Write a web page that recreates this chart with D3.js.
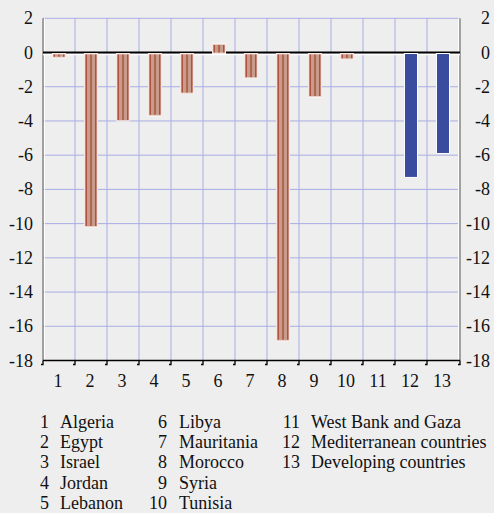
<!DOCTYPE html>
<html>
<head>
   <script src="https://d3js.org/d3.v7.min.js"></script>
   <style>
      body { margin: 0; background: #eeeeee; }
   </style>
</head>
<body>
   <script>
      var codes = [1, 2, 3, 4, 5, 6, 7, 8, 9, 10, 11, 12, 13]
      var names = ["Algeria", "Egypt", "Israel", "Jordan", "Lebanon", "Libya", "Mauritania",
         "Morocco", "Syria", "Tunisia", "West Bank and Gaza", "Mediterranean countries", "Developing countries"]
      var values = [-0.3, -10.2, -4.0, -3.7, -2.4, 0.5, -1.5, -16.85, -2.6, -0.4, 0, -7.3, -5.9]
      var aggregates = [12, 13]
      var yTicks = [2, 0, -2, -4, -6, -8, -10, -12, -14, -16, -18]

      var W = 494, H = 513
      var svg = d3.select("body").append("svg").attr("width", W).attr("height", H)
         .attr("font-family", "'Liberation Serif', 'Times New Roman', Times, serif")
      svg.append("rect").attr("width", W).attr("height", H).attr("fill", "#eeeeee")

      var x = d3.scaleBand().domain(codes).range([43, 459]).padding(0)
      var y = d3.scaleLinear().domain([-18, 2]).range([360.5, 18.3])
      var barW = 13

      // grid
      svg.append("g").selectAll("line.h").data(yTicks.filter(d => d != 0 && d != -18)).enter().append("line")
         .attr("x1", 43).attr("x2", 459).attr("y1", d => y(d)).attr("y2", d => y(d))
         .attr("stroke", "#a9aee3").attr("stroke-width", 1)
      svg.append("g").selectAll("line.v").data(codes.slice(1)).enter().append("line")
         .attr("x1", d => x(d)).attr("x2", d => x(d)).attr("y1", y(2)).attr("y2", y(-18))
         .attr("stroke", "#a9aee3").attr("stroke-width", 1)

      // y axes
      svg.append("line").attr("x1", 44.5).attr("x2", 44.5).attr("y1", y(2)).attr("y2", y(-18)).attr("stroke", "#fff")
      svg.append("line").attr("x1", 43).attr("x2", 43).attr("y1", y(2)).attr("y2", y(-18)).attr("stroke", "#555")
      svg.append("line").attr("x1", 458.5).attr("x2", 458.5).attr("y1", y(2)).attr("y2", y(-18)).attr("stroke", "#fff")
      svg.append("line").attr("x1", 460).attr("x2", 460).attr("y1", y(2)).attr("y2", y(-18)).attr("stroke", "#555")

      svg.append("g").selectAll("text").data(yTicks).enter().append("text")
         .attr("x", 33).attr("y", d => y(d) + 6).attr("text-anchor", "end")
         .attr("font-size", 18).attr("fill", "#111").text(d => d)
      svg.append("g").selectAll("text").data(yTicks).enter().append("text")
         .attr("x", 490).attr("y", d => y(d) + 6).attr("text-anchor", "end")
         .attr("font-size", 18).attr("fill", "#111").text(d => d)

      // zero line
      svg.append("line").attr("x1", 43).attr("x2", 460).attr("y1", y(0) + 2).attr("y2", y(0) + 2)
         .attr("stroke", "#fff").attr("stroke-width", 1.5)
      svg.append("line").attr("x1", 43).attr("x2", 460).attr("y1", y(0)).attr("y2", y(0))
         .attr("stroke", "#000").attr("stroke-width", 2)

      // bars
      var data = codes.map((c, i) => ({ c: c, name: names[i], v: values[i] }))
      var bars = svg.append("g").selectAll("g").data(data.filter(d => d.v != 0)).enter().append("g")
      bars.append("rect")
         .attr("x", d => x(d.c) + x.bandwidth() / 2 - barW / 2)
         .attr("y", d => Math.min(y(d.v), y(0) + 1))
         .attr("width", barW)
         .attr("height", d => Math.abs(y(d.v) - y(0) - 1))
         .attr("fill", d => aggregates.includes(d.c) ? "#3a4c9e" : "#c99b8b")
         .attr("stroke", "#fff").attr("stroke-width", 1)
      var salmon = bars.filter(d => !aggregates.includes(d.c))
      salmon.append("rect")
         .attr("x", d => x(d.c) + x.bandwidth() / 2 - barW / 2 + 0.5)
         .attr("y", d => Math.min(y(d.v), y(0) + 1) + 0.5)
         .attr("width", barW - 1)
         .attr("height", d => Math.abs(y(d.v) - y(0) - 1) - 1)
         .attr("fill", "none").attr("stroke", "#ead0c4").attr("stroke-width", 1)
      ;[-4.8, 0, 4.8].forEach(off => {
         salmon.append("line")
            .attr("x1", d => x(d.c) + x.bandwidth() / 2 + off)
            .attr("x2", d => x(d.c) + x.bandwidth() / 2 + off)
            .attr("y1", d => Math.min(y(d.v), y(0) + 1) + 1)
            .attr("y2", d => Math.max(y(d.v), y(0) + 1) - 1)
            .attr("stroke", "#a3412f").attr("stroke-width", 1.2)
      })

      // bottom axis
      var by = y(-18)
      svg.append("line").attr("x1", 43).attr("x2", 460).attr("y1", by).attr("y2", by)
         .attr("stroke", "#000").attr("stroke-width", 1.5)
      svg.append("g").selectAll("path").data(codes.concat([14])).enter().append("path")
         .attr("d", d => {
            var px = d == 14 ? 460 : x(d)
            return `M${px},${by} V${by + 4} H${px - 2}`
         })
         .attr("fill", "none").attr("stroke", "#000").attr("stroke-width", 1.3)
      svg.append("g").selectAll("text").data(codes).enter().append("text")
         .attr("x", d => x(d) + x.bandwidth() / 2 - 1).attr("y", 387)
         .attr("text-anchor", "middle").attr("font-size", 18).attr("fill", "#111").text(d => d)

      // legend
      var colX = [[49, 60], [167, 179], [300, 311]]
      var leg = svg.append("g").selectAll("g").data(data).enter().append("g")
         .attr("transform", (d, i) => `translate(0, ${427.5 + (i % 5) * 20.4})`)
      leg.append("text").attr("x", (d, i) => colX[Math.floor(i / 5)][0]).attr("text-anchor", "end")
         .attr("font-size", 18).attr("fill", "#111").text(d => d.c)
      leg.append("text").attr("x", (d, i) => colX[Math.floor(i / 5)][1])
         .attr("font-size", 18).attr("fill", "#111").text(d => d.name)
   </script>
</body>
</html>
